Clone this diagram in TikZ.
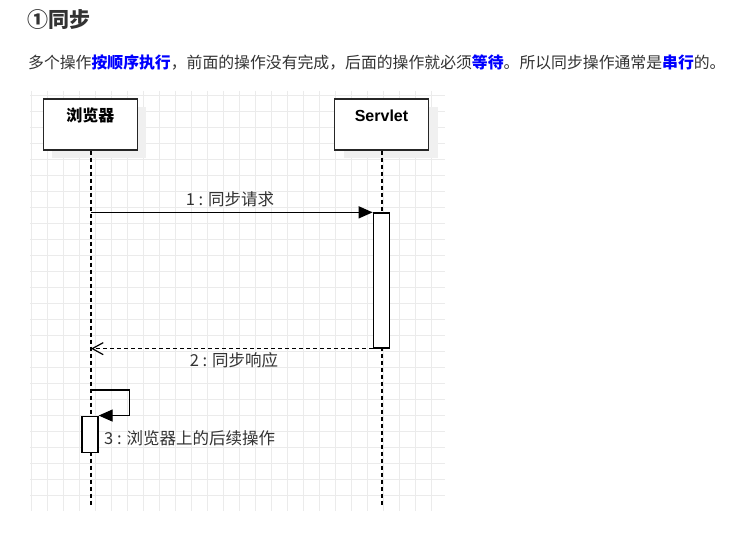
\documentclass[tikz,border=0pt]{standalone}
\usepackage{fontspec}
\setmainfont{Noto Sans CJK SC}
\newfontfamily\latinsans{Liberation Sans}
\usepackage{xcolor}
\usepackage{tikz}
\usetikzlibrary{arrows.meta,calc,positioning,shadows}
\definecolor{ink}{HTML}{333333}
\definecolor{stress}{HTML}{0000FF}
\definecolor{gridline}{HTML}{EBEBEB}
\definecolor{shade}{HTML}{F0F0F0}
\tikzset{
  head/.style={
    draw=black!85,
    line width=1.3pt,
    fill=white,
    minimum width=94pt,
    minimum height=51pt,
    drop shadow={shadow xshift=9pt, shadow yshift=-8pt, fill=shade, opacity=1}
  },
  headText/.style={font=\fontsize{16}{18}\selectfont\bfseries, text=black, inner sep=0pt},
  lifeline/.style={line width=1.3pt, dash pattern=on 4pt off 3pt},
  act/.style={draw=black, line width=1.3pt, fill=white, minimum width=16pt, inner sep=0pt},
  call/.style={line width=1.3pt, -{Triangle[length=14pt,width=12pt]}},
  reply/.style={line width=1.3pt, dash pattern=on 4pt off 3pt, -{Straight Barb[length=11pt,width=12pt,line width=1.2pt]}},
  msgLabel/.style={font=\fontsize{16.5}{19}\selectfont, text=ink, inner sep=0pt}
}
\newcommand{\hi}[1]{\textcolor{stress}{\textbf{#1}}}

\begin{document}
\begin{tikzpicture}[x=1pt,y=-1pt]
\path[use as bounding box, fill=white] (0,0) rectangle (732,540);

\node[font=\fontsize{21}{24}\selectfont\bfseries, text=ink, anchor=west, inner sep=0pt] (title) at (27,20) {①同步};
\node[font=\fontsize{15.85}{18}\selectfont, text=ink, anchor=west, inner sep=0pt] (intro) at (28,62)
  {多个操作\hi{按顺序执行}，前面的操作没有完成，后面的操作就必须\hi{等待}。所以同步操作通常是\hi{串行}的。};

% grid of the diagram canvas
\fill[white] (30,91) rectangle (445,511);
\foreach \k in {0,...,25} {
  \draw[gridline, line width=0.9pt] (31.3+16*\k,91) -- (31.3+16*\k,511);
  \draw[gridline, line width=0.9pt] (30,95.3+16*\k) -- (445,95.3+16*\k);
}

% lifelines
\node[head] (browser) at (90.3,124.5) {};
\node[headText] (browserText) at ([yshift=-17pt]browser.north) {浏览器};
\node[head] (servlet) at (381.5,124.5) {};
\node[headText, font=\fontsize{16}{18}\latinsans\bfseries] (servletText) at ([yshift=-17pt]servlet.north) {Servlet};

\coordinate (browserEnd) at (91,505);
\coordinate (servletEnd) at (382,505);
\draw[lifeline] (browser.south -| browserEnd) -- (browserEnd);
\draw[lifeline] (servlet.south -| servletEnd) -- (servletEnd);

% activations
\node[act, minimum height=135pt] (servletAct) at (381.3,280.5) {};
\node[act, minimum height=36pt] (browserAct) at (90,434.2) {};

% messages
\coordinate (callStart) at (browserEnd |- servletAct.north west);
\draw[call] (callStart) -- (servletAct.north west);
\node[msgLabel] (callText) at (230,199) {1 : 同步请求};

\coordinate (replyEnd) at (browserEnd |- servletAct.south west);
\draw[reply] (servletAct.south west) -- (replyEnd);
\node[msgLabel] (replyText) at (234,360) {2 : 同步响应};

\coordinate (selfStart) at (91,390);
\coordinate (selfTurn) at (129.3,390);
\draw[call] (selfStart) -- (selfTurn) |- (browserAct.north east);
\node[msgLabel, anchor=west] (selfText) at (104,438) {3 : 浏览器上的后续操作};
\end{tikzpicture}
\end{document}
